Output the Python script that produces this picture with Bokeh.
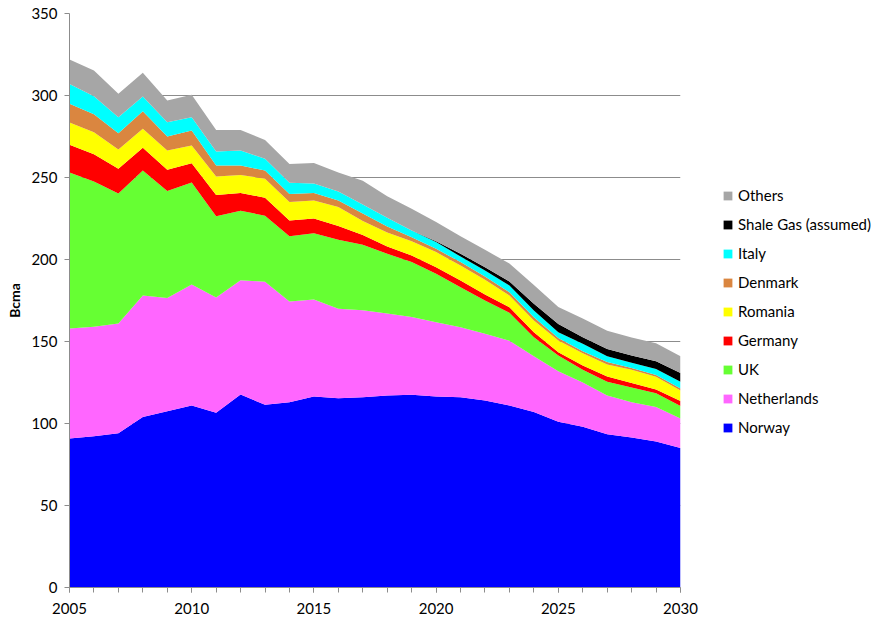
from bokeh.plotting import figure
from bokeh.models import ColumnDataSource, Legend, LegendItem, FixedTicker, Range1d
from bokeh.layouts import row
from bokeh.embed import file_html
from bokeh.resources import INLINE

years = list(range(2005, 2031))

norway = [90.8, 92.3, 94.0, 104.0, 107.5, 111.0, 106.5, 117.7, 111.4, 113.0, 116.5, 115.4, 116.0,
          117.0, 117.5, 116.5, 116.0, 114.0, 111.0, 107.0, 101.0, 98.0, 93.5, 91.5, 89.0, 85.0]
netherlands = [67.2, 66.7, 67.0, 74.0, 69.1, 73.8, 70.3, 69.7, 75.0, 61.4, 59.1, 54.6, 53.0,
               50.0, 47.5, 45.3, 42.7, 40.7, 39.5, 34.0, 30.8, 27.0, 23.6, 21.5, 21.0, 18.0]
uk = [95.0, 88.5, 79.2, 76.3, 65.1, 62.2, 49.6, 42.4, 40.3, 39.8, 40.4, 42.0, 40.0,
      36.5, 33.4, 29.5, 24.4, 20.3, 17.0, 11.6, 9.7, 7.7, 8.4, 9.0, 8.5, 7.7]
germany = [17.0, 16.7, 15.1, 13.8, 13.0, 11.7, 13.0, 10.8, 10.9, 9.6, 9.0, 8.5, 6.0,
           4.5, 4.0, 4.0, 4.1, 3.7, 3.4, 3.1, 2.0, 2.7, 3.2, 2.7, 2.3, 3.0]
romania = [13.5, 13.4, 11.7, 11.6, 11.8, 10.8, 11.2, 11.0, 11.6, 11.2, 11.0, 11.5, 8.5,
           8.5, 8.8, 9.2, 9.1, 8.9, 7.1, 7.1, 7.1, 7.5, 7.3, 8.1, 7.7, 6.4]
denmark = [11.5, 11.0, 10.0, 10.7, 8.5, 9.2, 6.7, 5.7, 5.1, 5.0, 4.5, 4.0, 4.5,
           3.6, 2.4, 2.0, 2.1, 2.0, 2.0, 2.0, 1.6, 1.2, 1.5, 1.0, 1.0, 1.2]
italy = [12.0, 10.9, 9.7, 9.0, 8.7, 8.1, 8.5, 9.2, 7.1, 6.8, 5.8, 5.5, 5.5,
         5.3, 4.1, 4.1, 3.4, 3.7, 4.1, 4.1, 3.4, 4.5, 3.5, 3.2, 3.8, 4.1]
shale = [0, 0, 0, 0, 0, 0, 0, 0, 0, 0, 0, 0, 0,
         0, 0, 0.5, 1.7, 2.0, 2.5, 4.1, 5.0, 4.0, 4.5, 4.5, 4.7, 5.4]
others = [15.0, 15.8, 14.3, 14.4, 13.3, 13.6, 13.2, 12.5, 11.5, 11.5, 12.5, 11.5, 14.5,
          13.2, 13.2, 11.7, 10.7, 10.6, 10.9, 11.5, 10.4, 11.4, 11.0, 11.0, 11.0, 10.2]

series_names = ["Norway", "Netherlands", "UK", "Germany", "Romania", "Denmark", "Italy",
                "Shale Gas (assumed)", "Others"]
series_keys = ["norway", "netherlands", "uk", "germany", "romania", "denmark", "italy",
               "shale", "others"]
series_colors = ["#0000FF", "#FF66FF", "#66FF33", "#FF0000", "#FFFF00", "#DA8640", "#00FFFF",
                 "#000000", "#A6A6A6"]

y_ticks = [0, 50, 100, 150, 200, 250, 300, 350]
x_major = [2005, 2010, 2015, 2020, 2025, 2030]

source = ColumnDataSource(dict(year=years, norway=norway, netherlands=netherlands, uk=uk,
                               germany=germany, romania=romania, denmark=denmark, italy=italy,
                               shale=shale, others=others))

FONT = "Lato"
FS = "15px"
p = figure(width=700, height=618, output_backend="svg", toolbar_location=None,
           x_range=Range1d(2005, 2030), y_range=Range1d(0, 350),
           min_border_left=69, min_border_right=20, min_border_top=13, min_border_bottom=31)
p.outline_line_color = None
p.background_fill_color = "white"

renderers = p.varea_stack(stackers=series_keys, x="year", color=series_colors, source=source)

# grid
p.xgrid.grid_line_color = None
p.ygrid.grid_line_color = "#8C8C8C"
p.ygrid.grid_line_width = 1
p.ygrid.ticker = FixedTicker(ticks=y_ticks)

# y axis
p.yaxis.ticker = FixedTicker(ticks=y_ticks)
p.yaxis.axis_line_color = "#8C8C8C"
p.yaxis.major_tick_line_color = "#8C8C8C"
p.yaxis.major_tick_in = 0
p.yaxis.major_tick_out = 5
p.yaxis.minor_tick_line_color = None
p.yaxis.major_label_text_font = FONT
p.yaxis.major_label_text_font_size = FS
p.yaxis.major_label_text_color = "black"
p.yaxis.major_label_standoff = 7
p.yaxis.axis_label = "Bcma"
p.yaxis.axis_label_text_font = FONT
p.yaxis.axis_label_text_font_style = "bold"
p.yaxis.axis_label_text_font_size = "14px"
p.yaxis.axis_label_text_color = "black"
p.yaxis.axis_label_standoff = 5

# x axis
p.xaxis.ticker = FixedTicker(ticks=x_major, minor_ticks=years)
p.xaxis.axis_line_color = "#8C8C8C"
p.xaxis.major_tick_line_color = "#8C8C8C"
p.xaxis.minor_tick_line_color = "#8C8C8C"
p.xaxis.major_tick_in = 0
p.xaxis.major_tick_out = 5
p.xaxis.minor_tick_in = 0
p.xaxis.minor_tick_out = 5
p.xaxis.major_label_text_font = FONT
p.xaxis.major_label_text_font_size = FS
p.xaxis.major_label_text_color = "black"
p.xaxis.major_label_standoff = 10

# legend panel (separate figure so the legend is not clipped by the plot frame)
q = figure(width=171, height=618, output_backend="svg", toolbar_location=None,
           x_range=Range1d(0, 1), y_range=Range1d(0, 1),
           x_axis_location=None, y_axis_location=None,
           min_border_left=0, min_border_right=0, min_border_top=0, min_border_bottom=0)
q.outline_line_color = None
q.grid.grid_line_color = None
legend_renderers = q.varea_stack(stackers=series_keys, x="year", color=series_colors, source=source)

items = [LegendItem(label=series_names[i], renderers=[legend_renderers[i]])
         for i in range(len(series_names) - 1, -1, -1)]
legend = Legend(items=items, location=(22, 150), orientation="vertical")
legend.border_line_color = None
legend.background_fill_alpha = 0
legend.padding = 0
legend.margin = 0
legend.glyph_width = 11
legend.glyph_height = 11
legend.label_standoff = 5
legend.label_height = 20
legend.spacing = 9
legend.label_text_font = FONT
legend.label_text_font_size = FS
legend.label_text_color = "black"
q.add_layout(legend, "center")

layout = row(p, q)
open("out.html", "w").write(file_html(layout, INLINE))
